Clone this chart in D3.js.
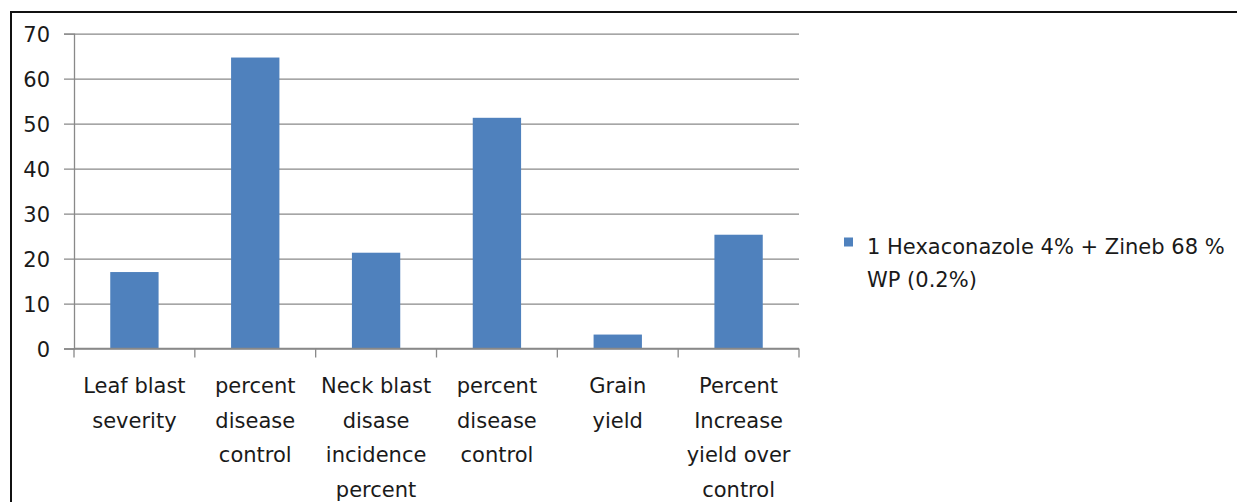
<!DOCTYPE html>
<html>
<head>
<meta charset="utf-8">
<script src="https://cdn.jsdelivr.net/npm/d3@7"></script>
<style>
  html, body { margin: 0; padding: 0; background: #fff; }
  svg { display: block; }
  text { font-family: "DejaVu Sans", sans-serif; fill: #1a1a1a; }
</style>
</head>
<body>
<svg id="chart" width="1237" height="502"></svg>
<script>
const categories = [
  "Leaf blast\nseverity",
  "percent\ndisease\ncontrol",
  "Neck blast\ndisase\nincidence\npercent",
  "percent\ndisease\ncontrol ",
  "Grain\nyield",
  "Percent\nIncrease\nyield over\ncontrol"
];
const values = [17.0, 64.7, 21.3, 51.3, 3.1, 25.3];
const yTicks = [0, 10, 20, 30, 40, 50, 60, 70];
const seriesName = ["1 Hexaconazole 4% + Zineb 68 %", "WP (0.2%)"];

const svg = d3.select("#chart");
const plotLeft = 74, plotRight = 799, plotTop = 33.7, plotBottom = 348.5;
const barColor = "#4F81BD";
const axisColor = "#898989";

// outer border (clipped by window on right/bottom)
svg.append("rect")
  .attr("x", 11).attr("y", 12)
  .attr("width", 1300).attr("height", 600)
  .attr("fill", "none").attr("stroke", "#111").attr("stroke-width", 2);

const y = d3.scaleLinear().domain([0, 70]).range([plotBottom, plotTop]);
const x = d3.scaleBand().domain(categories).range([plotLeft, plotRight])
  .paddingInner(0.6).paddingOuter(0.3);
const step = x.step();

// gridlines + y ticks
const yAxis = d3.axisLeft(y).tickValues(yTicks).tickSize(10).tickFormat(d3.format("d")).tickPadding(14);
const gy = svg.append("g").attr("transform", `translate(${plotLeft},0)`).call(yAxis);
gy.select(".domain").attr("stroke", axisColor).attr("stroke-width", 1.3);
gy.selectAll(".tick line").attr("stroke", axisColor).attr("stroke-width", 1.3)
  .attr("x2", plotRight - plotLeft).attr("x1", -10);
gy.selectAll(".tick text").attr("font-size", 21).attr("fill", "#1a1a1a")
  .style("font-family", "DejaVu Sans, sans-serif").attr("dy", "0.36em").attr("x", -24);

// bars
svg.append("g").selectAll("rect").data(values).join("rect")
  .attr("x", (d, i) => x(categories[i]))
  .attr("width", x.bandwidth())
  .attr("y", d => y(d))
  .attr("height", d => y(0) - y(d))
  .attr("fill", barColor);

// x axis line and boundary ticks
svg.append("line").attr("x1", plotLeft).attr("x2", plotRight)
  .attr("y1", y(0)).attr("y2", y(0))
  .attr("stroke", axisColor).attr("stroke-width", 1.3);
const bounds = categories.map(c => x(c) + x.bandwidth() / 2 - step / 2)
  .concat([x(categories[categories.length - 1]) + x.bandwidth() / 2 + step / 2]);
svg.append("g").selectAll("line").data(bounds).join("line")
  .attr("x1", d => d).attr("x2", d => d)
  .attr("y1", y(0)).attr("y2", y(0) + 9)
  .attr("stroke", axisColor).attr("stroke-width", 1.3);

// x labels
const lab = svg.append("g").selectAll("text").data(categories).join("text")
  .attr("text-anchor", "middle")
  .attr("font-size", 21)
  .attr("x", c => x(c) + x.bandwidth() / 2)
  .attr("y", 393.3);
lab.each(function(c) {
  const t = d3.select(this);
  c.trim().split("\n").forEach((line, i) => {
    t.append("tspan").attr("x", x(c) + x.bandwidth() / 2)
      .attr("y", 393.3 + i * 34.5).text(line);
  });
});

// legend
const lg = svg.append("g");
lg.append("rect").attr("x", 844).attr("y", 237.5).attr("width", 9).attr("height", 9).attr("fill", barColor);
seriesName.forEach((s, i) => {
  lg.append("text").attr("x", 867).attr("y", 254 + i * 32.7)
    .attr("font-size", 21).text(s);
});
</script>
</body>
</html>
